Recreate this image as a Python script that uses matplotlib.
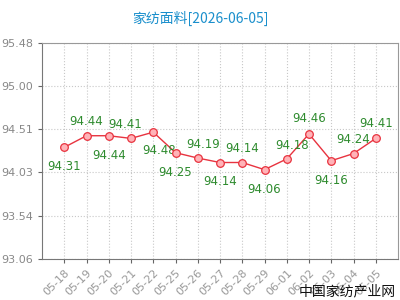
import matplotlib
matplotlib.use('Agg')
import matplotlib.pyplot as plt

plt.rcParams['font.family'] = ['Noto Sans CJK SC', 'DejaVu Sans']

dates  = ['05-18', '05-19', '05-20', '05-21', '05-22', '05-25', '05-26', '05-27',
          '05-28', '05-29', '06-01', '06-02', '06-03', '06-04', '06-05']
values = [94.31, 94.44, 94.44, 94.41, 94.48, 94.25, 94.19, 94.14,
          94.14, 94.06, 94.18, 94.46, 94.16, 94.24, 94.41]
yticks = [93.06, 93.54, 94.03, 94.51, 95.00, 95.48]

# label offsets in points (dx, dy) -- above / below each marker
label_off = [(0, -14), (0, 10), (0, -14), (-4, 10), (4, -13), (0, -14), (4, 10), (0, -14),
             (0, 10), (0, -14), (4, 10), (0, 11), (0, -14), (0, 10), (0, 11)]

fig = plt.figure(figsize=(4, 3), dpi=100)
ax = fig.add_axes([0.105, 0.137, 0.89, 0.72])

x = list(range(len(dates)))
ax.plot(x, values, '-', color='#e8333f', lw=1.0, zorder=3)
ax.plot(x, values, 'o', ms=5.5, mfc='#ffb3b8', mec='#e8333f', mew=0.9, zorder=4)

for i, v in enumerate(values):
    dx, dy = label_off[i]
    ax.annotate(f'{v:.2f}', (i, v), textcoords='offset points', xytext=(dx, dy),
                ha='center', va='center', fontsize=8.5, color='#2e8b2e',
                family=['DejaVu Sans'])

ax.set_xlim(-1, 15)
ax.set_ylim(93.06, 95.48)
ax.set_xticks(x)
ax.set_xticklabels(dates, rotation=45, ha='right', rotation_mode='anchor',
                   fontsize=8, color='#999999', family=['DejaVu Sans'])
ax.set_yticks(yticks)
ax.set_yticklabels([f'{t:.2f}' for t in yticks], fontsize=8, color='#888888',
                   family=['DejaVu Sans'])
ax.tick_params(axis='both', length=3, color='#666666')
ax.grid(True, ls=':', color='#c8c8c8', lw=0.8)
for s in ax.spines.values():
    s.set_color('#999999')
ax.spines['left'].set_color('#777777')
ax.spines['bottom'].set_color('#777777')

fig.text(0.5, 0.937, '家纺面料[2026-06-05]', ha='center', va='center',
         fontsize=10, color='#1a8fcc')
fig.text(0.99, 0.03, '中国家纺产业网', ha='right', va='center',
         fontsize=10, color='#111111')

fig.savefig('out.png', dpi=100)
